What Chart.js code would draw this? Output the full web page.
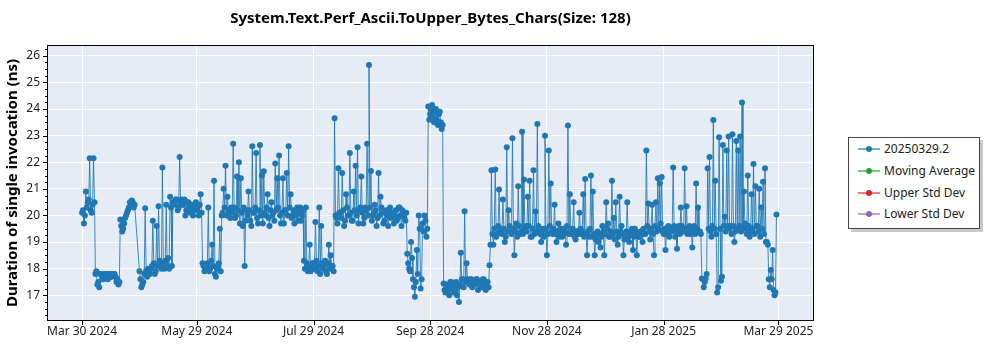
<!DOCTYPE html>
<html>
<head>
<meta charset="utf-8">
<script src="https://cdn.jsdelivr.net/npm/chart.js@4.4.1/dist/chart.umd.min.js"></script>
<style>
body { margin: 0; background: #fff; font-family: "Noto Sans", sans-serif; }
#wrap { position: relative; width: 1000px; height: 350px; }
#box { position: absolute; left: 0; top: 0; width: 840px; height: 350px; }
#legend { position: absolute; left: 848px; top: 137px; width: 130px; height: 90px;
  border: 1px solid #444; box-shadow: 3px 3px 0 #c8c8c8; background: #fff; }
.item { position: absolute; left: 0; width: 130px; height: 20px; font-size: 12px; color: #222; line-height: 20px; }
.item .ln { position: absolute; left: 9px; top: 9px; width: 22px; height: 2px; opacity: 0.6; }
.item .dot { position: absolute; left: 17px; top: 7px; width: 6px; height: 6px; border-radius: 50%; }
.item .t { position: absolute; left: 35px; white-space: nowrap; }
</style>
</head>
<body>
<div id="wrap">
  <div id="box"><canvas id="perfChart"></canvas></div>
  <div id="legend"></div>
</div>
<script>
const chartTitle = "System.Text.Perf_Ascii.ToUpper_Bytes_Chars(Size: 128)";
const yTitle = "Duration of single invocation (ns)";

// x = days since Mar 30 2024
const xTickDays = [0, 60, 121, 182, 243, 304, 364];
const xTickLabels = ["Mar 30 2024", "May 29 2024", "Jul 29 2024", "Sep 28 2024", "Nov 28 2024", "Jan 28 2025", "Mar 29 2025"];
const yTicks = [17, 18, 19, 20, 21, 22, 23, 24, 25, 26];

const seriesNames = ["20250329.2", "Moving Average", "Upper Std Dev", "Lower Std Dev"];
const seriesColors = ["#1f77b4", "#2ca02c", "#d62728", "#9467bd"];

// first run of each day, null = no run that day
const durations = [
  20.1, 19.7, 20.9, 20.5, 22.15, 20.1, 22.15, 17.8, 17.4, 17.3,
  17.8, 17.6, 17.8, 17.75, 17.8, 17.7, 17.8, 17.8, 17.5, 17.4,
  19.85, 19.4, 19.7, 20.0, 20.2, 20.5, 20.56, 20.3, null, null,
  17.9, 17.3, 17.5, 20.27, 17.7, 17.9, 18.0, 19.8, 17.8, 19.6,
  20.35, 18.2, 21.8, 18.0, 20.4, 18.4, 20.7, 18.1, 20.5, 20.6,
  20.2, 22.2, 20.6, 20.4, 20.0, 20.5, 20.3, 20.4, 20.0, 20.3,
  20.2, 20.0, 20.8, 18.2, 17.9, 18.1, 20.3, 18.0, 18.9, 21.3,
  17.7, 18.1, 19.5, 20.0, 21.0, 21.87, 20.7, 20.1, 20.3, 22.7,
  19.9, 21.46, 22.0, 21.4, 19.6, 18.1, 20.2, 20.9, 19.8, 22.6,
  20.1, 22.35, 19.7, 22.65, 21.5, 21.66, 20.0, 20.8, 19.6, 20.5,
  20.1, 21.95, 21.4, 22.25, 19.7, 21.4, 20.2, 21.6, 22.6, 20.8,
  20.0, 19.7, 20.2, 19.8, 20.3, 20.0, 18.3, 20.3, 17.9, 18.9,
  18.0, 18.2, 19.75, 17.9, 20.3, 19.6, 18.0, 18.3, 17.8, 18.9,
  18.5, 18.1, 23.65, 19.9, 21.77, 20.1, 21.6, 19.6, 20.8, 20.0,
  22.35, 19.8, 20.9, 21.87, 22.56, 20.2, 21.46, 19.7, 20.3, 22.7,
  25.66, 21.67, 20.0, 20.4, 19.6, 21.6, 20.7, 20.1, 19.8, 20.2,
  19.6, 20.3, 20.0, 19.7, 20.2, 19.9, 20.3, 19.6, 20.1, 19.8,
  18.56, 18.0, 19.0, 17.6, 16.94, 18.7, 20.0, 17.25, 19.7, 20.0,
  19.2, 24.1, 23.8, 24.15, 23.5, 24.0, 23.4, 23.9, 23.25, 17.44,
  17.1, 17.3, 17.0, 17.5, 17.2, 17.4, 17.0, 16.75, 18.6, 17.6,
  20.16, 18.2, 17.5, 17.6, 17.3, 17.5, 17.6, 17.2, 17.5, 17.3,
  17.6, 17.2, 17.5, 18.13, 21.7, 18.9, 21.73, 19.3, 20.98, 19.5,
  20.6, 19.0, 22.56, 20.2, 19.4, 22.9, 18.5, 19.7, 21.1, 19.3,
  23.15, 21.35, 19.6, 20.7, 21.3, 19.2, 21.7, 20.15, 23.44, 19.4,
  19.0, 19.5, 23.0, 18.5, 22.44, 21.2, 19.3, 20.4, 19.0, 19.7,
  19.4, 19.2, 19.5, 18.9, 23.38, 20.8, 19.3, 20.5, 19.1, 19.4,
  20.1, 19.3, 20.8, 21.37, 18.5, 19.2, 21.5, 20.9, 18.5, 19.3,
  19.0, 18.8, 19.6, 18.5, 20.5, 19.7, 19.2, 21.3, 19.9, 20.5,
  18.9, 20.7, 19.6, 18.5, 19.3, 20.5, 19.0, 19.4, 18.7, 19.5,
  18.5, 19.2, 19.4, 19.0, 19.3, 22.44, 20.45, 19.1, 20.4, 18.5,
  20.5, 21.4, 21.2, 21.45, 19.3, 18.7, 19.5, 19.2, 19.4, 21.8,
  19.2, 18.75, 19.6, 20.3, 19.4, 21.77, 20.35, 19.5, 19.3, 18.8,
  19.6, 21.2, 20.3, 19.4, 17.63, 17.3, 17.63, 21.77, 22.2, 19.2,
  23.59, 21.3, 17.1, 22.94, 17.55, 22.65, 19.95, 22.44, 22.97, 19.6,
  23.05, 19.0, 22.8, 22.44, 22.97, 24.25, 20.9, 19.5, 21.5, 19.2,
  20.8, 21.93, 21.1, 19.6, 21.0, 20.3, 21.27, 21.77, 19.0, 17.6,
  17.95, 18.7, 17.0, 20.04
];

// second run of each day (half a day later)
const laterRuns = [
  20.2, 20.0, 20.3, 20.6, 20.2, 20.4, 20.5, 17.9, 17.5, 17.8,
  17.7, 17.8, 17.8, 17.6, 17.8, 17.7, 17.8, 17.7, 17.6, 17.5,
  19.6, 19.5, 19.9, 20.1, 20.3, 20.4, 20.5, 20.4, null, null,
  17.6, 17.4, 17.8, 17.9, 18.0, 17.8, 18.1, 18.2, 17.9, 18.1,
  18.3, 18.0, 18.2, 18.3, 18.1, 18.0, 20.3, 20.5, 20.4, 20.6,
  20.3, 20.5, 20.4, 20.6, 20.2, 20.5, 20.1, 20.4, 20.2, 20.5,
  20.3, 20.4, 20.1, 18.1, 18.0, 18.2, 17.9, 18.3, 18.1, 17.8,
  18.0, 18.2, 17.9, 20.1, 20.3, 20.0, 20.2, 19.9, 20.1, 20.3,
  20.0, 20.2, 19.7, 20.1, 20.3, 19.8, 20.0, 20.2, 19.6, 20.1,
  20.3, 19.9, 20.2, 20.0, 19.7, 20.1, 20.3, 19.9, 20.2, 20.0,
  19.8, 20.2, 20.3, 20.0, 20.1, 19.7, 20.2, 20.0, 20.3, 19.9,
  20.2, 20.0, 20.3, 20.1, 19.8, 20.2, 18.0, 18.2, 18.1, 17.9,
  18.2, 18.0, 18.3, 18.1, 17.8, 18.2, 18.1, 17.9, 18.2, 18.0,
  18.1, 17.9, 20.0, 19.7, 20.1, 19.9, 20.2, 19.8, 20.3, 20.0,
  20.1, 19.8, 20.2, 20.0, 19.7, 20.3, 20.1, 19.9, 20.2, 20.0,
  20.3, 19.8, 20.1, 20.2, 19.9, 20.0, 20.3, 19.7, 20.1, 20.0,
  20.2, 19.9, 20.1, 20.0, 19.8, 20.3, 20.0, 20.2, 19.9, 20.1,
  18.2, 17.9, 18.4, 17.3, 17.5, 17.8, 19.5, 17.6, 19.4, 19.8,
  19.5, 23.6, 24.0, 23.7, 23.9, 23.6, 23.8, 23.5, 23.4, 17.2,
  17.4, 17.2, 17.5, 17.3, 17.1, 17.5, 17.3, 17.4, 17.6, 17.3,
  17.5, 17.6, 17.4, 17.6, 17.5, 17.4, 17.6, 17.5, 17.3, 17.6,
  17.4, 17.5, 17.3, 18.9, 19.3, 19.5, 19.2, 19.6, 19.4, 19.3,
  19.5, 19.2, 19.4, 19.6, 19.3, 19.5, 19.4, 19.2, 19.6, 19.4,
  19.3, 19.5, 19.4, 19.6, 19.2, 19.5, 19.3, 19.4, 19.6, 19.3,
  19.4, 19.2, 19.5, 19.3, 19.6, 19.4, 19.5, 19.3, 19.4, 19.2,
  19.5, 19.3, 19.4, 19.6, 19.3, 19.4, 19.5, 19.2, 19.4, 19.3,
  19.5, 19.4, 19.2, 19.3, 19.4, 19.5, 19.2, 19.3, 19.1, 19.4,
  19.3, 19.2, 19.4, 19.3, 19.5, 19.2, 19.4, 19.3, 19.1, 19.4,
  19.2, 19.4, 19.3, 19.1, 19.4, 19.2, 19.3, 19.5, 19.2, 19.4,
  19.3, 19.2, 19.4, 19.5, 19.3, 19.6, 19.4, 19.5, 19.3, 19.6,
  19.4, 19.5, 19.7, 19.4, 19.5, 19.3, 19.6, 19.4, 19.5, 19.6,
  19.4, 19.5, 19.3, 19.6, 19.4, 19.5, 19.3, 19.6, 19.4, 19.5,
  19.3, 19.5, 19.4, 19.3, 17.6, 17.5, 17.8, 19.5, 19.4, 19.6,
  19.5, 19.3, 17.3, 19.5, 17.7, 19.6, 19.4, 19.6, 19.5, 19.3,
  19.6, 19.4, 19.5, 19.6, 19.4, 19.5, 19.7, 19.3, 19.6, 19.4,
  19.5, 19.3, 19.6, 19.4, 19.2, 19.5, 19.3, 19.0, 18.9, 17.3,
  17.6, 17.2, 17.1, 17.2
];

const points = [];
durations.forEach((v, i) => {
  if (v !== null) points.push({ x: i, y: v });
  if (laterRuns[i] !== null && i < durations.length - 1) points.push({ x: i + 0.5, y: laterRuns[i] });
});

// legend
const legend = document.getElementById("legend");
const rowTops = [1, 23, 45, 66];
seriesNames.forEach((name, i) => {
  legend.innerHTML += `
    <div class="item" style="top:${rowTops[i]}px">
      <div class="ln" style="background:${seriesColors[i]}"></div>
      <div class="dot" style="background:${seriesColors[i]}"></div>
      <span class="t">${name}</span>
    </div>`;
});

const framePlugin = {
  id: "frame",
  beforeDraw(chart) {
    const { ctx, chartArea: a } = chart;
    ctx.save();
    ctx.fillStyle = "#e5ecf6";
    ctx.fillRect(a.left, a.top, a.right - a.left, a.bottom - a.top);
    ctx.restore();
  },
  afterDraw(chart) {
    const { ctx, chartArea: a, scales } = chart;
    ctx.save();
    ctx.strokeStyle = "#000";
    ctx.lineWidth = 1;
    ctx.strokeRect(Math.round(a.left) - 0.5, Math.round(a.top) - 0.5,
      Math.round(a.right - a.left) + 1, Math.round(a.bottom - a.top) + 1);
    ctx.beginPath();
    xTickDays.forEach(d => {
      const px = Math.round(scales.x.getPixelForValue(d)) + 0.5;
      ctx.moveTo(px, a.bottom);
      ctx.lineTo(px, a.bottom + 5);
    });
    for (let v = 16.25; v < 26.37; v += 0.25) {
      const py = Math.round(scales.y.getPixelForValue(v)) + 0.5;
      const len = Number.isInteger(v) ? 5 : 3;
      ctx.moveTo(a.left, py);
      ctx.lineTo(a.left - len, py);
    }
    ctx.stroke();
    ctx.restore();
  }
};

new Chart(document.getElementById("perfChart"), {
  type: "line",
  data: {
    datasets: [{
      label: seriesNames[0],
      data: points,
      borderColor: "rgba(31,119,180,0.85)",
      borderWidth: 1,
      pointRadius: 3,
      pointBorderWidth: 0,
      pointBackgroundColor: seriesColors[0],
      tension: 0
    },
    { label: seriesNames[1], data: [], borderColor: seriesColors[1] },
    { label: seriesNames[2], data: [], borderColor: seriesColors[2] },
    { label: seriesNames[3], data: [], borderColor: seriesColors[3] }]
  },
  options: {
    responsive: true,
    maintainAspectRatio: false,
    animation: false,
    layout: { padding: { left: 0, right: 27, top: 0, bottom: 0 } },
    plugins: {
      legend: { display: false },
      tooltip: { enabled: false },
      title: {
        display: true,
        text: chartTitle,
        fullSize: false,
        color: "#000",
        font: { family: "Noto Sans", size: 15, weight: "bold" },
        padding: { top: 10, bottom: 18 }
      }
    },
    scales: {
      x: {
        type: "linear",
        min: -17.8,
        max: 382.1,
        afterBuildTicks: s => { s.ticks = xTickDays.map(v => ({ value: v })); },
        afterFit: s => { s.height = 30; },
        ticks: {
          callback: (v, i) => xTickLabels[i],
          autoSkip: false,
          maxRotation: 0,
          padding: 4,
          color: "#222",
          font: { family: "Noto Sans", size: 12 }
        },
        grid: { color: "#fff", lineWidth: 1, drawTicks: false },
        border: { display: false }
      },
      y: {
        min: 16.07,
        max: 26.37,
        afterBuildTicks: s => { s.ticks = yTicks.map(v => ({ value: v })); },
        afterFit: s => { s.width = 48; },
        ticks: {
          padding: 8,
          color: "#222",
          font: { family: "Noto Sans", size: 12 }
        },
        grid: { color: "#fff", lineWidth: 1, drawTicks: false },
        border: { display: false },
        title: {
          display: true,
          text: yTitle,
          color: "#000",
          font: { family: "Noto Sans", size: 15, weight: "bold" },
          padding: { top: 4, bottom: 0 }
        }
      }
    }
  },
  plugins: [framePlugin]
});
</script>
</body>
</html>
